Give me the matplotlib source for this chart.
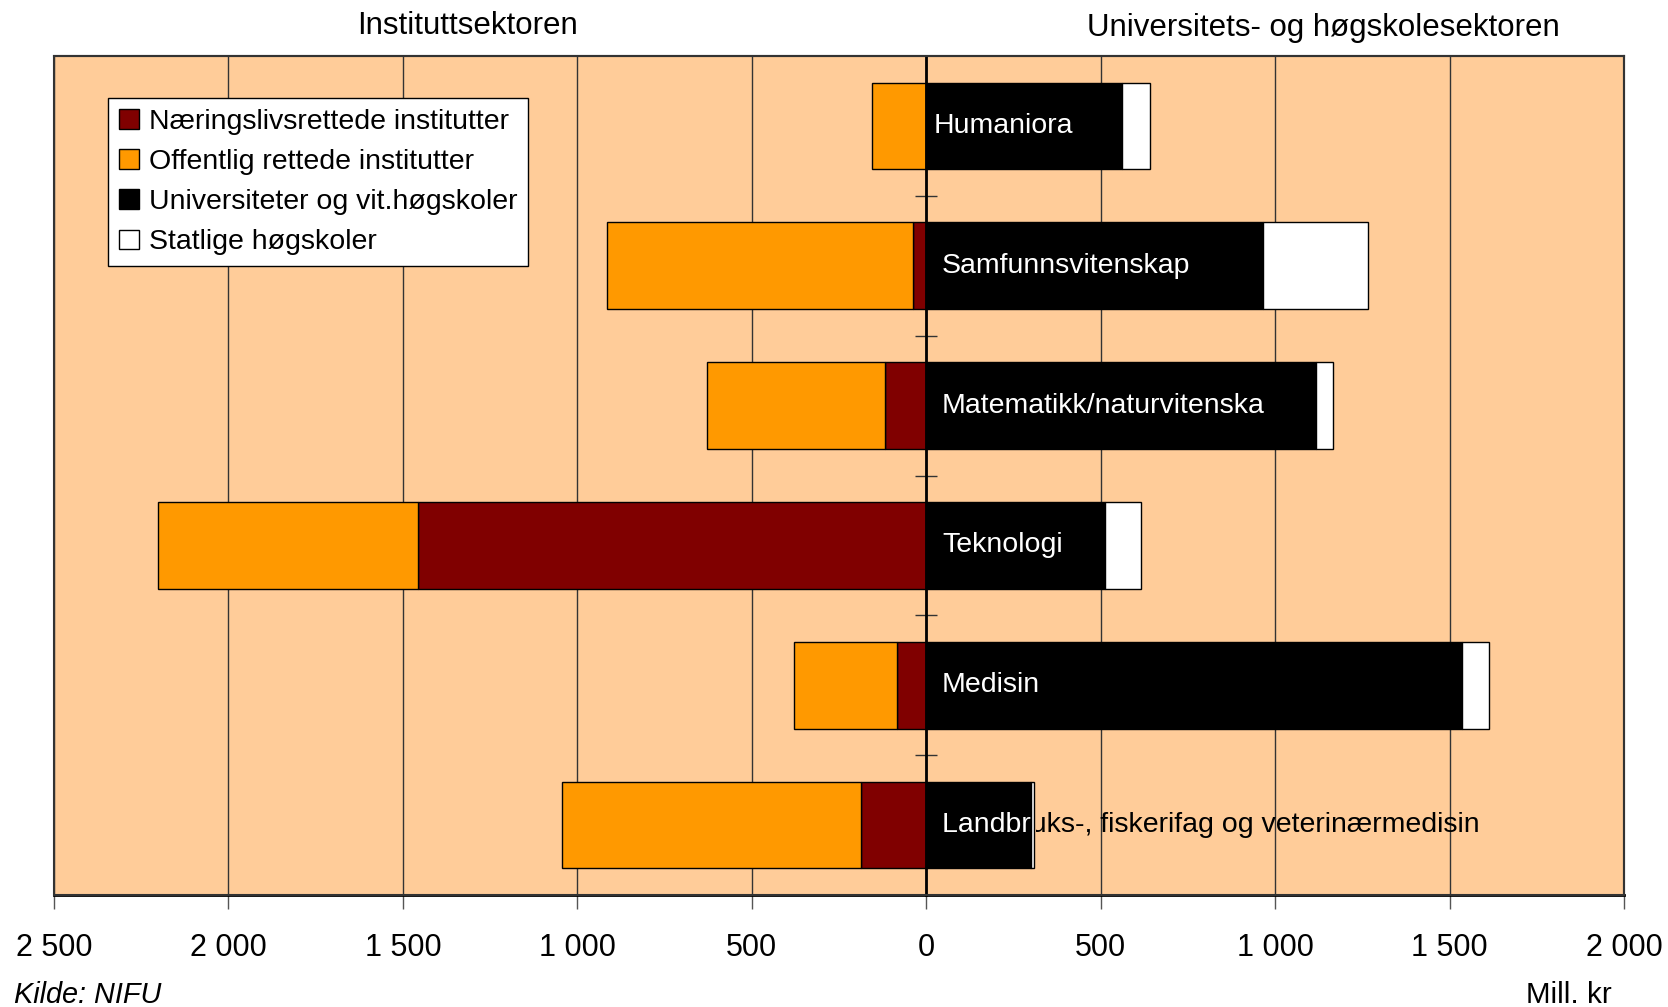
import matplotlib
matplotlib.use("Agg")
import matplotlib.pyplot as plt
from matplotlib.patches import Patch, Rectangle
from matplotlib.ticker import FuncFormatter, FixedLocator
import numpy as np

plt.rcParams['font.family'] = ['Liberation Sans', 'DejaVu Sans']

categories = ["Humaniora", "Samfunnsvitenskap", "Matematikk/naturvitenska",
              "Teknologi", "Medisin", "Landbruks-, fiskerifag og veterinærmedisin"]
naeringsliv = [0, 37, 119, 1457, 85, 186]
offentlig = [155, 878, 509, 744, 293, 857]
universitet = [560, 966, 1116, 512, 1537, 299]
statlige = [82, 299, 49, 104, 76, 9]

series_names = ["Næringslivsrettede institutter", "Offentlig rettede institutter",
                "Universiteter og vit.høgskoler", "Statlige høgskoler"]
colors = ["#800000", "#FF9900", "#000000", "#FFFFFF"]
bg = "#FFCC99"

fig = plt.figure(figsize=(16.68, 10.07), dpi=100)
ax = fig.add_axes([0.0324, 0.1112, 0.9412, 0.8332])
ax.set_facecolor(bg)

n = len(categories)
y = np.arange(n)[::-1]          # first category at top
h = 0.62
nae = np.array(naeringsliv)
off = np.array(offentlig)
uni = np.array(universitet)
sta = np.array(statlige)

ax.barh(y, -nae, height=h, color=colors[0], edgecolor="black", linewidth=1, zorder=3)
ax.barh(y, -off, left=-nae, height=h, color=colors[1], edgecolor="black", linewidth=1, zorder=3)
ubars = ax.barh(y, uni, height=h, color=colors[2], edgecolor="black", linewidth=1, zorder=3)
ax.barh(y, sta, left=uni, height=h, color=colors[3], edgecolor="black", linewidth=1, zorder=3)

ax.set_xlim(-2500, 2000)
ax.set_ylim(-0.5, n - 0.5)

# category labels: white over the black bar, black outside it
for i, (cat, bar) in enumerate(zip(categories, ubars)):
    yi = y[i]
    xoff = 20 if i == 0 else 45
    t1 = ax.text(xoff, yi, cat, color="white", fontsize=20.5, va="center", ha="left",
                 zorder=5, clip_on=True)
    t1.set_clip_path(bar)
    t2 = ax.text(xoff, yi, cat, color="black", fontsize=20.5, va="center", ha="left",
                 zorder=5, clip_on=True)
    r = Rectangle((uni[i] + sta[i] + 8, yi - 0.5), 5000, 1, transform=ax.transData)
    t2.set_clip_path(r)

# zero line and boundary ticks
ax.yaxis.set_major_locator(FixedLocator(np.arange(0.5, n - 0.5, 1)))
ax.set_yticklabels([])
ax.spines['left'].set_position(('data', 0))
ax.spines['left'].set_linewidth(2)
ax.spines['left'].set_zorder(4)
ax.tick_params(axis='y', direction='inout', length=16, width=1, color="#333333")

for s in ['top', 'right']:
    ax.spines[s].set_color("#333333")
    ax.spines[s].set_linewidth(1.5)
ax.spines['bottom'].set_linewidth(2)
ax.add_patch(Rectangle((0, 0), 1, 1, transform=ax.transAxes, fill=False,
                       edgecolor="#333333", linewidth=1.5, zorder=6, clip_on=False))

ticks = np.arange(-2500, 2001, 500)
ax.set_xticks(ticks)
def fmt(v, pos):
    return f"{int(abs(round(v))):,}".replace(",", " ")
ax.xaxis.set_major_formatter(FuncFormatter(fmt))
ax.tick_params(axis='x', direction='out', length=10, width=1, color="#555555",
               labelsize=22, pad=17)
ax.grid(axis='x', color="#333333", linewidth=1)
ax.set_axisbelow(True)

handles = [Patch(facecolor=c, edgecolor="black", linewidth=1) for c in colors]
leg = ax.legend(handles, series_names, loc="upper left", bbox_to_anchor=(0.0344, 0.95),
                borderaxespad=0, fontsize=20.5, frameon=True, fancybox=False,
                edgecolor="black", framealpha=1, handlelength=0.7, handleheight=0.7,
                handletextpad=0.35, labelspacing=0.5, borderpad=0.38)
leg.get_frame().set_linewidth(1)
leg.set_zorder(7)

fig.text(468 / 1668, 1 - 26 / 1007, "Instituttsektoren", fontsize=22.5, ha="center", va="center")
fig.text(1323 / 1668, 1 - 28 / 1007, "Universitets- og høgskolesektoren", fontsize=22.5, ha="center", va="center")
fig.text(14 / 1668, 1 - 995 / 1007, "Kilde: NIFU", fontsize=20.8, style="italic", ha="left", va="center")
fig.text(1612 / 1668, 1 - 995 / 1007, "Mill. kr", fontsize=21.3, ha="right", va="center")

fig.savefig("out.png", dpi=100, facecolor="white")
